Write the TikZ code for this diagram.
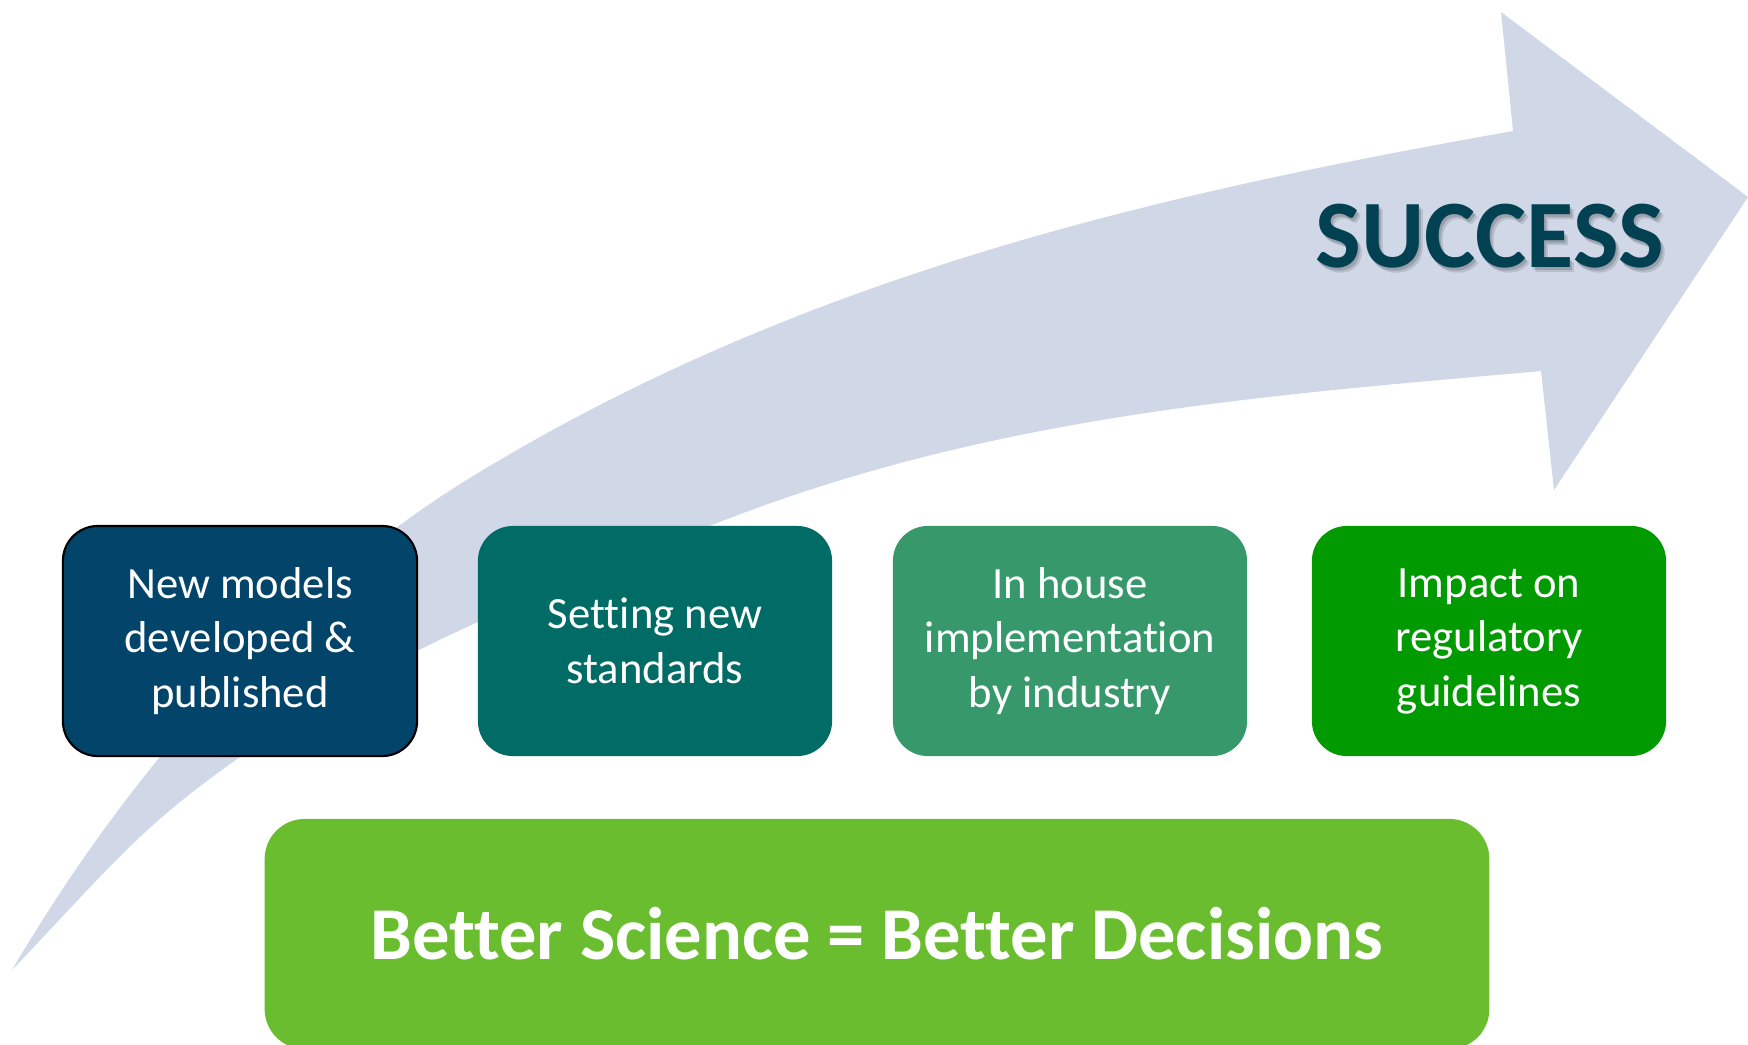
\documentclass[tikz,border=0pt]{standalone}
\usepackage{fontspec}
\setmainfont{Carlito}[Ligatures=NoCommon]

\definecolor{arrowgrey}{HTML}{D0D8E8}
\definecolor{modelblue}{HTML}{02446A}
\definecolor{standardteal}{HTML}{016B66}
\definecolor{industrygreen}{HTML}{37996B}
\definecolor{guidegreen}{HTML}{019A01}
\definecolor{sciencegreen}{HTML}{6ABD2E}
\definecolor{successteal}{HTML}{024152}

\begin{document}
\begin{tikzpicture}[x=0.01cm,y=-0.01cm,
  stage/.style={rounded corners=0.35cm,minimum width=3.54cm,minimum height=2.30cm,
    inner sep=0pt,align=center,text=white,font=\fontsize{12.7}{15.5}\selectfont}]
\useasboundingbox (0,0) rectangle (1748,1044);

% the big curved arrow in the back
\fill[arrowgrey] (12,970)
  .. controls (142,749) and (308,575) .. (478,473)
  .. controls (808,273) and (1163,193) .. (1513,131)
  -- (1501,12) -- (1748,197) -- (1554,490) -- (1541,371)
  .. controls (1261,396) and (987,415) .. (707,527)
  .. controls (537,598) and (410,638) .. (240,757)
  .. controls (140,827) and (112,865) .. (12,970)
  -- cycle;

% title with a soft shadow
\node[font=\fontsize{27.5}{33}\bfseries\selectfont,text=black,opacity=0.12] (successblur) at (1494,241) {SUCCESS};
\node[font=\fontsize{27.5}{33}\bfseries\selectfont,text=black,opacity=0.15] (successshadow) at (1492,239) {SUCCESS};
\node[font=\fontsize{27.5}{33}\bfseries\selectfont,text=successteal] (success) at (1490,236) {SUCCESS};

% the four steps
\node[stage,fill=modelblue,draw=black,line width=0.6pt] (models) at (240,641) {New models\\developed \&\\published};
\node[stage,fill=standardteal] (standards) at (655,641) {Setting new\\standards};
\node[stage,fill=industrygreen] (industry) at (1070,641) {In house\\implementation\\by industry};
\node[stage,fill=guidegreen] (guidelines) at (1489,641) {Impact on\\regulatory\\guidelines};

% bottom banner, cut by the page edge
\node[fill=sciencegreen,rounded corners=0.4cm,minimum width=12.24cm,minimum height=2.30cm,
  text=white,font=\fontsize{21.2}{25}\bfseries\selectfont] (science) at (877,934) {Better Science = Better Decisions};
\end{tikzpicture}
\end{document}
